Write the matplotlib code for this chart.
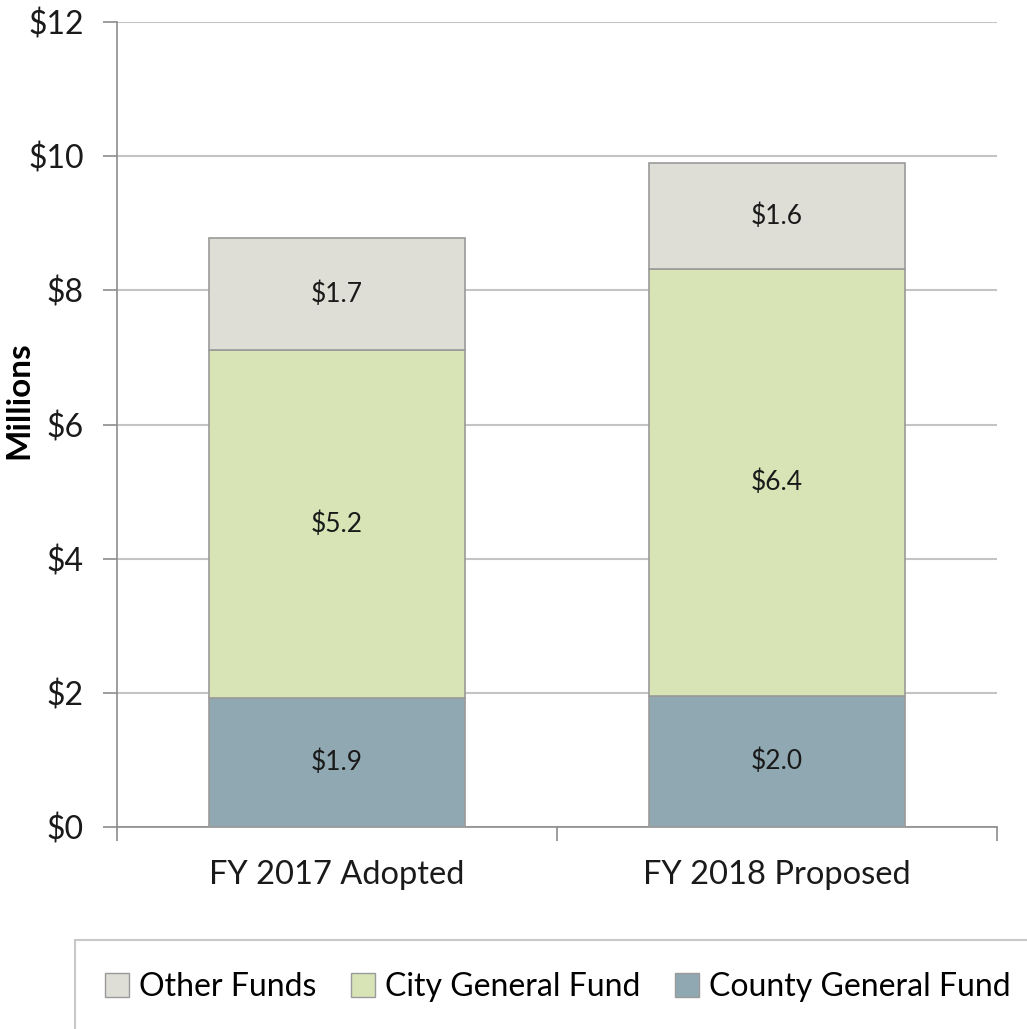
import matplotlib
matplotlib.use('Agg')
import matplotlib.pyplot as plt
from matplotlib.patches import Rectangle, Patch

# data (millions)
categories = ['FY 2017 Adopted', 'FY 2018 Proposed']
county = [1.92, 1.96]
city = [5.19, 6.36]
other = [1.67, 1.58]
yticks = [0, 2, 4, 6, 8, 10, 12]

c_other = '#DEDED6'
c_city = '#D8E4B5'
c_county = '#8FA8B1'
edge = '#9A9A9A'
grid = '#C4C4C4'

plt.rcParams['font.family'] = ['Lato', 'DejaVu Sans']

fig = plt.figure(figsize=(10.27, 10.29), dpi=100)
ax = fig.add_axes([117/1027, 1 - 827/1029, 880/1027, 805/1029])

x = list(range(len(categories)))
w = 0.58
ax.bar(x, county, w, color=c_county, edgecolor=edge, linewidth=1.2, zorder=3)
bottom2 = county
ax.bar(x, city, w, bottom=bottom2, color=c_city, edgecolor=edge, linewidth=1.2, zorder=3)
bottom3 = [a + b for a, b in zip(county, city)]
ax.bar(x, other, w, bottom=bottom3, color=c_other, edgecolor=edge, linewidth=1.2, zorder=3)

for i in x:
    ax.text(i, county[i] / 2, '$%.1f' % county[i], ha='center', va='center', fontsize=19, color='#1a1a1a', zorder=4)
    ax.text(i, bottom2[i] + city[i] / 2, '$%.1f' % city[i], ha='center', va='center', fontsize=19, color='#1a1a1a', zorder=4)
    ax.text(i, bottom3[i] + other[i] / 2, '$%.1f' % other[i], ha='center', va='center', fontsize=19, color='#1a1a1a', zorder=4)

ax.set_xlim(-0.5, 1.5)
ax.set_ylim(0, 12)
ax.set_yticks(yticks)
ax.set_yticklabels(['$%d' % t for t in yticks])
ax.yaxis.grid(True, color=grid, linewidth=1.5, zorder=0)
ax.set_axisbelow(True)

# category boundary ticks on x axis
ax.set_xticks([-0.5, 0.5, 1.5])
ax.set_xticklabels([])
ax.set_xticks(x, minor=True)
ax.set_xticklabels(categories, minor=True)
ax.tick_params(axis='x', which='minor', length=0, pad=24, labelsize=23.5, labelcolor='#1a1a1a')
ax.tick_params(axis='x', which='major', length=10, width=1.2, color='#8c8c8c', direction='out')
ax.tick_params(axis='y', length=10, width=1.2, color='#8c8c8c', pad=14, labelsize=23, labelcolor='#1a1a1a')

for s in ['top', 'right']:
    ax.spines[s].set_visible(False)
for s in ['left', 'bottom']:
    ax.spines[s].set_color('#8c8c8c')
    ax.spines[s].set_linewidth(1.2)

ax.set_ylabel('Millions', fontsize=24, fontweight='bold')
ax.yaxis.set_label_coords(-0.095, 0.53)

# legend box
fig.patches.append(Rectangle((75/1027, -0.05), 1.0, 1 - 940/1029 + 0.05, transform=fig.transFigure,
                             facecolor='white', edgecolor='#C8C8C8', linewidth=1.5))
handles = [Patch(facecolor=c_other, edgecolor=edge, label='Other Funds'),
           Patch(facecolor=c_city, edgecolor=edge, label='City General Fund'),
           Patch(facecolor=c_county, edgecolor=edge, label='County General Fund')]
fig.legend(handles=handles, loc='center', bbox_to_anchor=(558/1027, 1 - 987/1029), ncol=3, frameon=False,
           fontsize=23, handlelength=0.75, handleheight=0.75, handletextpad=0.3, columnspacing=1.1)

fig.savefig('out.png', dpi=100)
